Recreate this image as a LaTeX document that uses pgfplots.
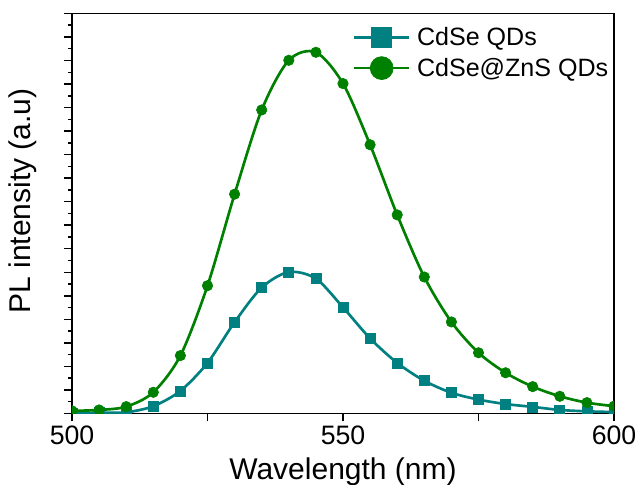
\documentclass[border=0pt]{standalone}
\usepackage{fontspec}
\setmainfont{Liberation Sans}
\usepackage{pgfplots}
\pgfplotsset{compat=1.18}
\definecolor{cteal}{HTML}{008080}
\definecolor{cgreen}{HTML}{008000}
\begin{document}
\begin{tikzpicture}
\begin{axis}[
 scale only axis, width=406.5pt, height=300pt,
 xmin=500, xmax=600, ymin=0, ymax=17,
 xtick={500,525,550,575,600}, xticklabels={500,,550,,600},
 ytick={0,...,17}, yticklabels={}, minor y tick num=1,
 xtick pos=left, ytick pos=left, tick align=outside,
 major tick length=6pt, minor tick length=3pt,
 axis line style={line width=1.1pt},
 every tick/.style={black, line width=1.1pt},
 /pgf/number format/assume math mode=true,
 tick label style={font=\fontsize{20}{24}\selectfont},
 xlabel={Wavelength (nm)},
 ylabel={PL intensity (a.u)},
 every axis x label/.style={at={(axis description cs:0.5,-0.165)}, anchor=base, font=\fontsize{22.5}{27}\selectfont},
 every axis y label/.style={at={(axis description cs:-0.0904,0.531)}, anchor=center, rotate=90, font=\fontsize{22.5}{27}\selectfont},
 clip marker paths=true,
 legend style={at={(axis description cs:0.518,0.972)}, anchor=north west, draw=none, fill=none,
   font=\fontsize{18.8}{22}\selectfont, inner xsep=0pt, inner ysep=0pt, row sep=3.7pt,
   /tikz/every odd column/.append style={column sep=3pt}},
 legend cell align=left,
 legend image code/.code={\draw[mark repeat=2,mark phase=2,#1,line width=2pt] plot coordinates {(0pt,0pt) (20.5pt,0pt) (41pt,0pt)};},
]
\addplot[cteal, line width=2pt, smooth, mark=square*, mark size=3.75pt, mark options={solid, fill=cteal, line width=0.5pt},
  legend image post style={mark size=7.5pt}] coordinates {
(500,0.02)(505,0.03)(510,0.05)(515,0.31)(520,0.96)(525,2.15)(530,3.88)(535,5.35)(540,6.01)(545,5.73)(550,4.51)(555,3.19)(560,2.15)(565,1.39)(570,0.88)(575,0.59)(580,0.40)(585,0.28)(590,0.15)(595,0.09)(600,0.06)};
\addlegendentry{CdSe QDs}
\addplot[cgreen, line width=2pt, smooth, mark=*, mark size=3.9pt, mark options={solid, fill=cgreen, line width=0.5pt},
  legend image post style={mark size=8.6pt}] coordinates {
(500,0.11)(505,0.15)(510,0.29)(515,0.90)(520,2.46)(525,5.43)(530,9.32)(535,12.90)(540,15.01)(545,15.35)(550,14.02)(555,11.42)(560,8.44)(565,5.80)(570,3.89)(575,2.58)(580,1.73)(585,1.14)(590,0.73)(595,0.46)(600,0.31)};
\addlegendentry{CdSe@ZnS QDs}
\end{axis}
\pgfresetboundingbox
\path[use as bounding box] (-54pt,-53.6pt) rectangle (422.25pt,310.1pt);
\end{tikzpicture}
\end{document}
